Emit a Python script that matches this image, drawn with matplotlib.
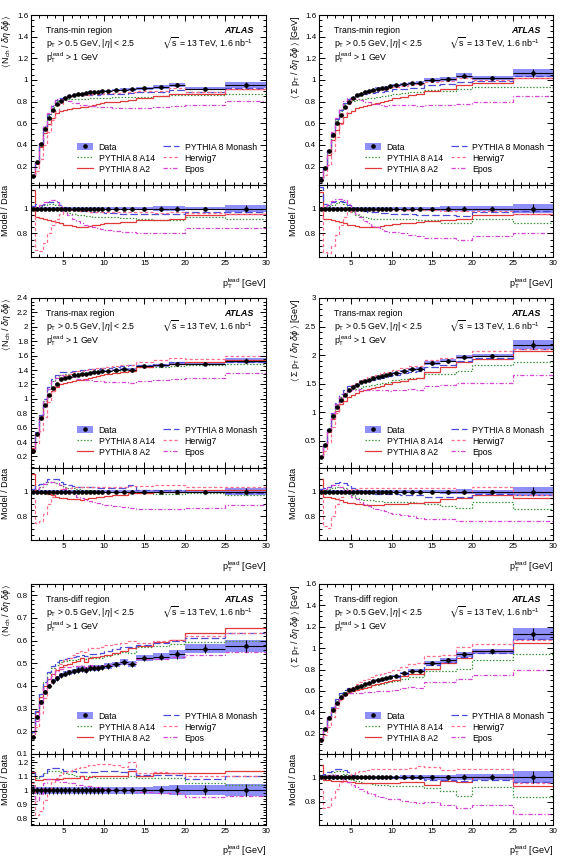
import matplotlib
matplotlib.use('Agg')
import matplotlib.pyplot as plt
import numpy as np
from matplotlib.ticker import MultipleLocator, FuncFormatter
from matplotlib.patches import Patch
from matplotlib.lines import Line2D

plt.rcParams['font.family'] = ['Liberation Sans', 'DejaVu Sans']
plt.rcParams['mathtext.fontset'] = 'custom'
plt.rcParams['mathtext.rm'] = 'Liberation Sans'
plt.rcParams['mathtext.it'] = 'Liberation Sans:italic'
plt.rcParams['mathtext.bf'] = 'Liberation Sans:bold'
plt.rcParams['mathtext.fallback'] = 'stixsans'

# ---------------- data ----------------
bin_edges = [1.0, 1.5, 2.0, 2.5, 3.0, 3.5, 4.0, 4.5, 5.0, 5.5, 6.0, 6.5, 7.0, 7.5, 8.0,
             8.5, 9.0, 9.5, 10.0, 11.0, 12.0, 13.0, 14.0, 16.0, 18.0, 20.0, 25.0, 30.0]

series_names = ['PYTHIA 8 A14', 'PYTHIA 8 A2', 'PYTHIA 8 Monash', 'Herwig7', 'Epos']

# Trans-min, Nch
nch_min_data = [0.11, 0.24, 0.41, 0.55, 0.65, 0.72, 0.78, 0.81, 0.835, 0.85, 0.86, 0.87, 0.875, 0.88,
                0.885, 0.89, 0.89, 0.895, 0.90, 0.905, 0.91, 0.915, 0.925, 0.935, 0.95, 0.92, 0.955]
nch_min_err = [0.015, 0.012, 0.01, 0.01, 0.01, 0.01, 0.01, 0.01, 0.01, 0.01, 0.01, 0.01, 0.01, 0.01,
               0.012, 0.012, 0.012, 0.012, 0.012, 0.012, 0.013, 0.014, 0.015, 0.017, 0.02, 0.015, 0.03]
nch_min_a14 = [1.0, 1.01, 1.02, 1.03, 1.04, 1.04, 1.03, 1.0, 0.98, 0.965, 0.955, 0.95, 0.945, 0.94,
               0.94, 0.935, 0.935, 0.93, 0.93, 0.93, 0.925, 0.925, 0.915, 0.91, 0.905, 0.935, 0.915]
nch_min_a2 = [1.15, 0.93, 0.925, 0.92, 0.91, 0.9, 0.89, 0.88, 0.87, 0.865, 0.86, 0.855, 0.855, 0.855,
              0.86, 0.865, 0.87, 0.875, 0.88, 0.885, 0.89, 0.895, 0.905, 0.91, 0.915, 0.945, 0.955]
nch_min_monash = [1.02, 1.04, 1.03, 1.04, 1.05, 1.055, 1.05, 1.03, 1.01, 1.0, 0.99, 0.985, 0.98, 0.98,
                  0.975, 0.975, 0.97, 0.97, 0.965, 0.965, 0.96, 0.96, 0.96, 0.955, 0.955, 0.97, 0.97]
nch_min_herwig = [0.95, 0.67, 0.66, 0.72, 0.8, 0.87, 0.92, 0.96, 0.985, 0.99, 0.99, 0.985, 0.98, 0.98,
                  0.975, 0.975, 0.975, 0.975, 0.975, 0.975, 0.975, 0.975, 0.97, 0.965, 0.97, 0.965, 0.96]
nch_min_epos = [1.0, 1.01, 1.03, 1.05, 1.065, 1.07, 1.06, 1.02, 0.98, 0.95, 0.92, 0.9, 0.88, 0.87,
                0.86, 0.85, 0.84, 0.835, 0.83, 0.82, 0.815, 0.81, 0.8, 0.8, 0.8, 0.84, 0.84]

# Trans-min, sum pT
sum_min_data = [0.08, 0.19, 0.34, 0.49, 0.6, 0.68, 0.75, 0.8, 0.83, 0.86, 0.875, 0.89, 0.9, 0.91,
                0.92, 0.925, 0.93, 0.94, 0.95, 0.96, 0.97, 0.975, 1.0, 1.01, 1.04, 1.02, 1.06]
sum_min_err = [0.015, 0.012, 0.01, 0.01, 0.01, 0.01, 0.01, 0.01, 0.01, 0.01, 0.01, 0.01, 0.01, 0.012,
               0.012, 0.012, 0.012, 0.012, 0.013, 0.013, 0.014, 0.015, 0.016, 0.018, 0.022, 0.02, 0.035]
sum_min_a14 = [1.0, 1.01, 1.02, 1.03, 1.045, 1.05, 1.04, 1.0, 0.97, 0.95, 0.94, 0.93, 0.925, 0.92,
               0.92, 0.92, 0.92, 0.915, 0.915, 0.915, 0.915, 0.91, 0.91, 0.885, 0.88, 0.915, 0.885]
sum_min_a2 = [1.13, 0.92, 0.915, 0.91, 0.9, 0.89, 0.88, 0.87, 0.865, 0.86, 0.855, 0.85, 0.85, 0.85,
              0.855, 0.86, 0.865, 0.87, 0.875, 0.88, 0.885, 0.89, 0.9, 0.91, 0.92, 0.95, 0.96]
sum_min_monash = [1.17, 1.04, 1.03, 1.05, 1.06, 1.065, 1.055, 1.03, 1.01, 0.99, 0.985, 0.98, 0.975, 0.97,
                  0.97, 0.965, 0.965, 0.96, 0.96, 0.955, 0.955, 0.95, 0.95, 0.95, 0.94, 0.97, 0.98]
sum_min_herwig = [1.0, 0.65, 0.64, 0.7, 0.79, 0.87, 0.93, 0.97, 0.99, 1.0, 0.995, 0.99, 0.99, 0.985,
                  0.985, 0.985, 0.985, 0.985, 0.985, 0.985, 0.985, 0.985, 0.985, 0.98, 0.98, 0.98, 0.96]
sum_min_epos = [1.0, 1.02, 1.04, 1.06, 1.075, 1.08, 1.07, 1.04, 1.0, 0.96, 0.93, 0.9, 0.88, 0.86,
                0.85, 0.835, 0.82, 0.815, 0.81, 0.8, 0.79, 0.78, 0.765, 0.76, 0.75, 0.78, 0.8]

# Trans-max, Nch
nch_max_data = [0.28, 0.51, 0.73, 0.92, 1.06, 1.15, 1.21, 1.27, 1.29, 1.31, 1.325, 1.335, 1.345, 1.35,
                1.36, 1.37, 1.375, 1.38, 1.39, 1.40, 1.41, 1.405, 1.45, 1.465, 1.49, 1.49, 1.53]
nch_max_err = [0.012, 0.01, 0.01, 0.01, 0.01, 0.01, 0.01, 0.01, 0.01, 0.01, 0.01, 0.01, 0.01, 0.01,
               0.01, 0.01, 0.01, 0.01, 0.011, 0.011, 0.012, 0.012, 0.012, 0.013, 0.015, 0.015, 0.025]
nch_max_a14 = [1.0, 1.02, 1.04, 1.06, 1.075, 1.08, 1.07, 1.05, 1.04, 1.03, 1.025, 1.02, 1.015, 1.01,
               1.01, 1.005, 1.0, 1.0, 1.0, 0.995, 0.995, 1.0, 0.99, 0.98, 0.98, 0.99, 0.97]
nch_max_a2 = [1.14, 1.0, 0.995, 0.99, 0.98, 0.97, 0.96, 0.95, 0.945, 0.94, 0.94, 0.94, 0.935, 0.94,
              0.945, 0.95, 0.955, 0.96, 0.965, 0.97, 0.975, 0.985, 0.99, 1.0, 1.0, 1.01, 1.01]
nch_max_monash = [1.02, 1.05, 1.06, 1.08, 1.1, 1.105, 1.1, 1.08, 1.06, 1.05, 1.045, 1.04, 1.04, 1.04,
                  1.035, 1.035, 1.03, 1.03, 1.03, 1.03, 1.03, 1.05, 1.01, 1.01, 1.01, 1.0, 0.99]
nch_max_herwig = [0.95, 0.75, 0.76, 0.82, 0.9, 0.96, 1.0, 1.02, 1.03, 1.03, 1.035, 1.035, 1.035, 1.035,
                  1.035, 1.035, 1.035, 1.035, 1.04, 1.04, 1.04, 1.045, 1.045, 1.05, 1.05, 1.04, 1.04]
nch_max_epos = [1.0, 1.02, 1.04, 1.06, 1.075, 1.08, 1.07, 1.05, 1.02, 1.0, 0.98, 0.96, 0.95, 0.935,
                0.925, 0.915, 0.905, 0.9, 0.89, 0.88, 0.875, 0.87, 0.86, 0.86, 0.86, 0.87, 0.89]

# Trans-max, sum pT
sum_max_data = [0.21, 0.43, 0.68, 0.93, 1.09, 1.22, 1.30, 1.39, 1.44, 1.48, 1.52, 1.55, 1.57, 1.59,
                1.61, 1.63, 1.65, 1.66, 1.69, 1.72, 1.75, 1.76, 1.86, 1.9, 1.97, 1.99, 2.18]
sum_max_err = [0.012, 0.01, 0.01, 0.01, 0.01, 0.01, 0.01, 0.01, 0.01, 0.01, 0.01, 0.01, 0.01, 0.01,
               0.01, 0.01, 0.011, 0.011, 0.012, 0.012, 0.012, 0.013, 0.015, 0.016, 0.018, 0.016, 0.035]
sum_max_a14 = [1.0, 1.01, 1.02, 1.03, 1.04, 1.04, 1.03, 1.0, 0.97, 0.95, 0.94, 0.935, 0.93, 0.93,
               0.925, 0.925, 0.92, 0.92, 0.92, 0.915, 0.915, 0.91, 0.9, 0.88, 0.87, 0.92, 0.86]
sum_max_a2 = [1.1, 0.96, 0.955, 0.95, 0.94, 0.93, 0.92, 0.91, 0.905, 0.9, 0.9, 0.895, 0.895, 0.895,
              0.895, 0.895, 0.9, 0.9, 0.9, 0.9, 0.905, 0.91, 0.92, 0.94, 0.95, 0.97, 0.95]
sum_max_monash = [1.02, 1.03, 1.035, 1.05, 1.07, 1.08, 1.07, 1.05, 1.03, 1.01, 1.0, 0.995, 0.99, 0.985,
                  0.98, 0.98, 0.98, 0.98, 0.98, 0.975, 0.975, 0.975, 0.96, 0.96, 0.96, 0.98, 0.97]
sum_max_herwig = [0.95, 0.72, 0.71, 0.8, 0.9, 0.96, 1.0, 1.01, 1.02, 1.02, 1.025, 1.025, 1.025, 1.03,
                  1.03, 1.03, 1.03, 1.03, 1.03, 1.03, 1.03, 1.03, 1.03, 1.03, 1.0, 1.04, 0.97]
sum_max_epos = [1.0, 1.02, 1.04, 1.05, 1.05, 1.04, 1.02, 0.99, 0.96, 0.94, 0.92, 0.9, 0.88, 0.87,
                0.86, 0.85, 0.84, 0.83, 0.82, 0.81, 0.8, 0.79, 0.78, 0.78, 0.765, 0.76, 0.76]

# Trans-diff, Nch
nch_diff_data = [0.175, 0.265, 0.33, 0.372, 0.40, 0.42, 0.435, 0.447, 0.455, 0.46, 0.465, 0.47, 0.475, 0.47,
                 0.48, 0.48, 0.48, 0.482, 0.488, 0.495, 0.505, 0.497, 0.525, 0.53, 0.54, 0.565, 0.575]
nch_diff_err = [0.03, 0.025, 0.025, 0.025, 0.025, 0.025, 0.025, 0.025, 0.025, 0.025, 0.025, 0.025, 0.025, 0.025,
                0.025, 0.025, 0.025, 0.025, 0.025, 0.025, 0.025, 0.025, 0.025, 0.03, 0.035, 0.035, 0.045]
nch_diff_a14 = [1.1, 1.09, 1.1, 1.12, 1.14, 1.14, 1.135, 1.13, 1.125, 1.115, 1.11, 1.105, 1.1, 1.1,
                1.1, 1.095, 1.09, 1.09, 1.09, 1.09, 1.09, 1.1, 1.09, 1.09, 1.085, 1.05, 1.04]
nch_diff_a2 = [1.13, 1.07, 1.07, 1.08, 1.08, 1.08, 1.08, 1.08, 1.085, 1.085, 1.09, 1.09, 1.1, 1.08,
               1.095, 1.1, 1.1, 1.1, 1.1, 1.1, 1.1, 1.14, 1.1, 1.12, 1.12, 1.12, 1.14]
nch_diff_monash = [1.12, 1.1, 1.1, 1.12, 1.15, 1.16, 1.16, 1.15, 1.14, 1.14, 1.135, 1.13, 1.13, 1.13,
                   1.13, 1.13, 1.13, 1.135, 1.14, 1.14, 1.13, 1.15, 1.11, 1.11, 1.11, 1.08, 1.1]
nch_diff_herwig = [1.05, 0.82, 0.85, 0.93, 1.0, 1.06, 1.09, 1.11, 1.13, 1.14, 1.15, 1.16, 1.17, 1.17,
                   1.18, 1.18, 1.185, 1.19, 1.19, 1.18, 1.17, 1.2, 1.12, 1.13, 1.12, 1.1, 1.1]
nch_diff_epos = [1.0, 0.92, 0.97, 1.05, 1.08, 1.08, 1.07, 1.06, 1.06, 1.05, 1.05, 1.04, 1.04, 1.03,
                 1.03, 1.02, 1.02, 1.01, 1.01, 1.0, 1.0, 1.0, 0.99, 0.98, 0.98, 0.95, 0.96]

# Trans-diff, sum pT
sum_diff_data = [0.144, 0.247, 0.347, 0.425, 0.49, 0.54, 0.575, 0.605, 0.62, 0.635, 0.65, 0.665, 0.675, 0.69,
                 0.70, 0.71, 0.72, 0.73, 0.74, 0.77, 0.79, 0.79, 0.86, 0.885, 0.945, 0.97, 1.13]
sum_diff_err = [0.015, 0.012, 0.012, 0.012, 0.012, 0.012, 0.012, 0.012, 0.012, 0.012, 0.012, 0.012, 0.012, 0.012,
                0.012, 0.012, 0.013, 0.013, 0.014, 0.015, 0.016, 0.017, 0.02, 0.022, 0.025, 0.025, 0.05]
sum_diff_a14 = [1.0, 1.01, 1.02, 1.04, 1.05, 1.05, 1.03, 1.0, 0.98, 0.97, 0.96, 0.955, 0.95, 0.945,
                0.94, 0.935, 0.935, 0.93, 0.93, 0.93, 0.93, 0.93, 0.91, 0.89, 0.85, 0.92, 0.84]
sum_diff_a2 = [1.1, 0.98, 0.975, 0.97, 0.97, 0.97, 0.97, 0.965, 0.96, 0.955, 0.95, 0.95, 0.95, 0.95,
               0.95, 0.95, 0.95, 0.95, 0.955, 0.96, 0.96, 0.96, 0.94, 0.97, 0.96, 1.0, 0.93]
sum_diff_monash = [1.02, 1.03, 1.04, 1.05, 1.07, 1.07, 1.06, 1.04, 1.02, 1.0, 1.0, 1.0, 1.0, 0.995,
                   0.995, 0.99, 0.99, 0.99, 0.99, 0.99, 0.99, 0.99, 0.975, 0.98, 0.97, 0.98, 0.96]
sum_diff_herwig = [0.9, 0.75, 0.76, 0.83, 0.9, 0.96, 0.99, 1.01, 1.03, 1.04, 1.05, 1.055, 1.06, 1.065,
                   1.065, 1.07, 1.07, 1.07, 1.07, 1.07, 1.075, 1.09, 1.08, 1.06, 1.07, 1.07, 0.95]
sum_diff_epos = [1.0, 1.0, 1.02, 1.03, 1.02, 1.0, 0.98, 0.96, 0.94, 0.92, 0.9, 0.885, 0.87, 0.86,
                 0.85, 0.84, 0.83, 0.825, 0.82, 0.81, 0.8, 0.79, 0.8, 0.77, 0.75, 0.77, 0.7]

region_labels = ['Trans-min region', 'Trans-max region', 'Trans-diff region']
ylabel_nch = r'$\langle\,\mathrm{N_{ch}}\;/\;\delta\eta\;\delta\phi\,\rangle$'
ylabel_sum = r'$\langle\;\Sigma\;\mathrm{p_{T}}\;/\;\delta\eta\;\delta\phi\;\rangle$ [GeV]'

# ---------------- styles ----------------
BAND = '#7b7bf7'
styles = {
    'PYTHIA 8 A14': dict(color='#3c963c', ls=(0, (1.2, 1.4)), lw=0.9),
    'PYTHIA 8 A2': dict(color='#e0393b', ls='-', lw=0.9),
    'PYTHIA 8 Monash': dict(color='#4b4bd6', ls=(0, (6, 2.5)), lw=0.9),
    'Herwig7': dict(color='#ff6f8f', ls=(0, (2.6, 1.8)), lw=0.9),
    'Epos': dict(color='#d445d4', ls=(0, (3.5, 1.6, 1.0, 1.6)), lw=0.9),
}

panels = [
    dict(row=0, col=0, data=nch_min_data, err=nch_min_err,
         ratios=[nch_min_a14, nch_min_a2, nch_min_monash, nch_min_herwig, nch_min_epos],
         ylabel=ylabel_nch, ylim=(0.03, 1.6), ymaj=0.2, ymin=0.05),
    dict(row=0, col=1, data=sum_min_data, err=sum_min_err,
         ratios=[sum_min_a14, sum_min_a2, sum_min_monash, sum_min_herwig, sum_min_epos],
         ylabel=ylabel_sum, ylim=(0.03, 1.6), ymaj=0.2, ymin=0.05),
    dict(row=1, col=0, data=nch_max_data, err=nch_max_err,
         ratios=[nch_max_a14, nch_max_a2, nch_max_monash, nch_max_herwig, nch_max_epos],
         ylabel=ylabel_nch, ylim=(0.04, 2.4), ymaj=0.2, ymin=0.05),
    dict(row=1, col=1, data=sum_max_data, err=sum_max_err,
         ratios=[sum_max_a14, sum_max_a2, sum_max_monash, sum_max_herwig, sum_max_epos],
         ylabel=ylabel_sum, ylim=(0.02, 3.0), ymaj=0.5, ymin=0.1),
    dict(row=2, col=0, data=nch_diff_data, err=nch_diff_err,
         ratios=[nch_diff_a14, nch_diff_a2, nch_diff_monash, nch_diff_herwig, nch_diff_epos],
         ylabel=ylabel_nch, ylim=(0.1, 0.85), ymaj=0.1, ymin=0.02,
         rlim=(0.75, 1.26), rmaj=0.1, rmin=0.02),
    dict(row=2, col=1, data=sum_diff_data, err=sum_diff_err,
         ratios=[sum_diff_a14, sum_diff_a2, sum_diff_monash, sum_diff_herwig, sum_diff_epos],
         ylabel=ylabel_sum, ylim=(0.01, 1.6), ymaj=0.2, ymin=0.05),
]

# ---------------- layout (pixels) ----------------
W, H = 563, 866
col_x = [(31, 235), (319, 234)]
row_y = [(15, 185, 257), (298, 468, 540), (584, 754, 825)]

fig = plt.figure(figsize=(W / 100, H / 100), dpi=100)
fmt = FuncFormatter(lambda v, p: ('%g' % round(v, 6)))

edges = np.array(bin_edges)
centers = 0.5 * (edges[1:] + edges[:-1])
halfw = 0.5 * (edges[1:] - edges[:-1])


def style_axis(ax, ymaj, ymin):
    ax.set_xlim(1, 30)
    ax.xaxis.set_major_locator(MultipleLocator(5))
    ax.xaxis.set_minor_locator(MultipleLocator(1))
    ax.yaxis.set_major_locator(MultipleLocator(ymaj))
    ax.yaxis.set_minor_locator(MultipleLocator(ymin))
    ax.yaxis.set_major_formatter(fmt)
    ax.xaxis.set_major_formatter(fmt)
    ax.tick_params(which='both', direction='in', top=True, right=True,
                   labelsize=5.8, pad=2, width=0.7)
    ax.tick_params(which='major', length=4.2)
    ax.tick_params(which='minor', length=2.2)
    for s in ax.spines.values():
        s.set_linewidth(0.8)


for p in panels:
    x0, w = col_x[p['col']]
    top, mb, rb = row_y[p['row']]
    axm = fig.add_axes([x0 / W, 1 - mb / H, w / W, (mb - top) / H])
    axr = fig.add_axes([x0 / W, 1 - rb / H, w / W, (rb - mb) / H], sharex=axm)

    data = np.array(p['data'])
    rel = np.array(p['err'])
    abserr = rel * data

    # main panel
    axm.stairs(data + abserr, edges, baseline=data - abserr, fill=True,
               color=BAND, alpha=0.85, lw=0)
    for name, r in zip(series_names, p['ratios']):
        model = np.array(r) * data
        axm.stairs(model, edges, baseline=None, **styles[name])
    axm.errorbar(centers, data, xerr=halfw, yerr=abserr, fmt='o', ms=2.3,
                 color='k', lw=0.8, capsize=0, zorder=5)
    axm.set_ylim(*p['ylim'])
    style_axis(axm, p['ymaj'], p['ymin'])
    axm.tick_params(labelbottom=False)

    axm.text(0.064, 0.91, region_labels[p['row']], transform=axm.transAxes,
             fontsize=6.3, va='center', ha='left')
    axm.text(0.064, 0.835, r'p$_{\mathrm{T}}$ > 0.5 GeV, |$\eta$| < 2.5', transform=axm.transAxes,
             fontsize=6.3, va='center', ha='left')
    axm.text(0.064, 0.75, r'p$_{\mathrm{T}}^{\mathrm{lead}}$ > 1 GeV', transform=axm.transAxes,
             fontsize=6.3, va='center', ha='left')
    axm.text(0.945, 0.91, 'ATLAS', transform=axm.transAxes, fontsize=6.5,
             fontweight='bold', fontstyle='italic', va='center', ha='right')
    axm.text(0.945, 0.835, r'$\sqrt{\mathrm{s}}$ = 13 TeV, 1.6 nb$^{\mathrm{-1}}$', transform=axm.transAxes,
             fontsize=6.3, va='center', ha='right')

    axm.set_ylabel(p['ylabel'], fontsize=6.5, loc='top')
    axm.yaxis.label.set_verticalalignment('center')
    axm.yaxis.set_label_coords(-24.0 / w, 1.0)

    handles = [(Patch(facecolor=BAND, edgecolor='none', alpha=0.85),
                Line2D([], [], marker='o', ls='', color='k', ms=2.3))]
    for name in series_names:
        handles.append(Line2D([], [], **styles[name]))
    labels = ['Data'] + series_names
    axm.legend(handles, labels, ncol=2, loc='lower left', bbox_to_anchor=(0.195, 0.065),
               frameon=False, fontsize=6.3, handlelength=1.9, handleheight=1.0,
               columnspacing=0.9, labelspacing=0.25, handletextpad=0.6,
               borderaxespad=0, borderpad=0)

    # ratio panel
    axr.stairs(1 + rel, edges, baseline=1 - rel, fill=True, color=BAND, alpha=0.85, lw=0)
    for name, r in zip(series_names, p['ratios']):
        axr.stairs(np.array(r), edges, baseline=None, **styles[name])
    axr.errorbar(centers, np.ones_like(data), xerr=halfw, yerr=rel, fmt='o', ms=2.3,
                 color='k', lw=0.8, capsize=0, zorder=5)
    rlim = p.get('rlim', (0.61, 1.19))
    axr.set_ylim(*rlim)
    style_axis(axr, p.get('rmaj', 0.2), p.get('rmin', 0.05))
    axr.set_ylabel('Model / Data', fontsize=6.5, loc='top')
    axr.yaxis.label.set_verticalalignment('center')
    axr.yaxis.set_label_coords(-25.0 / w, 1.0)
    axr.set_xlabel(r'p$_{\mathrm{T}}^{\mathrm{lead}}$ [GeV]', fontsize=6.5, loc='right')
    axr.xaxis.set_label_coords(1.0, -0.26)

fig.savefig('out.png', dpi=100)
